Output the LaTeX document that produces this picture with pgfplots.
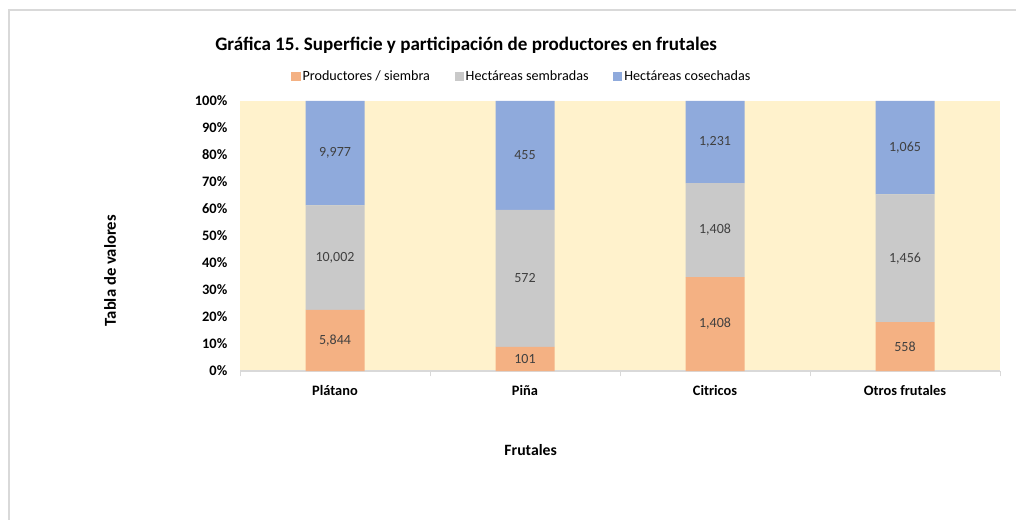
\documentclass[border=0pt]{standalone}
\usepackage{fontspec}
\setmainfont{Carlito}
\usepackage{pgfplots}
\usepackage{pgfplotstable}
\pgfplotsset{compat=1.18}
\definecolor{cOrange}{HTML}{F4B183}
\definecolor{cGray}{HTML}{C9C9C9}
\definecolor{cBlue}{HTML}{8FAADC}
\definecolor{bgY}{HTML}{FFF2CC}
\definecolor{axGray}{HTML}{D9D9D9}
\definecolor{lblGray}{HTML}{404040}
\pgfplotstableread{
x a b c
0 5844 10002 9977
1 101 572 455
2 1408 1408 1231
3 558 1456 1065
}\datatable
\frenchspacing
\begin{document}
\begin{tikzpicture}
\useasboundingbox (0pt,0pt) rectangle (762pt,-390pt);
\draw[axGray, line width=1pt] (6.75pt,-390pt) -- (6.75pt,-7.5pt) -- (762pt,-7.5pt);
\node[anchor=west, font=\bfseries\fontsize{14.3}{16}\selectfont, inner sep=0pt] at (161.25pt,-33.75pt) {Gráfica 15. Superficie y participación de productores en frutales};
\node[rotate=90, font=\bfseries\fontsize{12.5}{14}\selectfont, inner sep=0pt] at (82.5pt,-203pt) {Tabla de valores};
\node[font=\bfseries\fontsize{11.8}{14}\selectfont, inner sep=0pt] at (398pt,-337.5pt) {Frutales};
\begin{axis}[
  at={(180pt,-278.25pt)}, anchor=south west,
  width=570pt, height=202.5pt, scale only axis,
  xmin=-0.5, xmax=3.5, ymin=0, ymax=100,
  ybar stacked, bar width=44.25pt,
  axis background/.style={fill=bgY},
  axis x line*=bottom, axis y line*=left,
  x axis line style={draw=axGray, line width=0.8pt},
  y axis line style={draw=none},
  xtick={0,1,2,3},
  xticklabels={Plátano, Piña, Citricos, Otros frutales},
  xtick style={draw=none},
  ytick={0,10,...,100},
  ytick style={draw=none},
  yticklabel={\pgfmathprintnumber{\tick}\%},
  /pgf/number format/assume math mode=true,
  ticklabel style={font=\bfseries\fontsize{10.8}{12}\selectfont, text=black},
  yticklabel style={xshift=-6pt},
  xticklabel style={yshift=-7.5pt},
  extra x ticks={-0.5,0.5,1.5,2.5,3.5},
  extra x tick labels={},
  extra x tick style={xtick style={draw=axGray, line width=0.6pt}, tick align=outside, major tick length=4pt},
  legend columns=3,
  legend style={draw=none, fill=none, at={(0.371,1.089)}, anchor=center,
    font=\fontsize{10.6}{12}\selectfont, text=black,
    /tikz/every even column/.append style={column sep=17pt},
    inner sep=0pt, nodes={inner sep=1.5pt}},
  legend image code/.code={\fill[#1] (-3pt,-3.4pt) rectangle (3.8pt,3.4pt);},
  clip=false,
]
\addplot[fill=cOrange, draw=none] table[x=x, y expr={100*\thisrow{a}/(\thisrow{a}+\thisrow{b}+\thisrow{c})}] \datatable;
\addlegendentry{Productores / siembra}
\addplot[fill=cGray, draw=none] table[x=x, y expr={100*\thisrow{b}/(\thisrow{a}+\thisrow{b}+\thisrow{c})}] \datatable;
\addlegendentry{Hectáreas sembradas}
\addplot[fill=cBlue, draw=none] table[x=x, y expr={100*\thisrow{c}/(\thisrow{a}+\thisrow{b}+\thisrow{c})}] \datatable;
\addlegendentry{Hectáreas cosechadas}
\end{axis}
\begin{axis}[
  at={(180pt,-278.25pt)}, anchor=south west,
  width=570pt, height=202.5pt, scale only axis,
  xmin=-0.5, xmax=3.5, ymin=0, ymax=100,
  hide axis, clip=false,
  nodes near coords={\pgfmathprintnumber[assume math mode=true, 1000 sep={,}]{\pgfplotspointmeta}},
  every node near coord/.append style={anchor=center, font=\fontsize{10.5}{12}\selectfont, text=lblGray},
  point meta=explicit,
]
\addplot[only marks, mark=square*, mark size=0pt, mark options={draw=none, fill=none}] table[x=x, meta=a, y expr={50*\thisrow{a}/(\thisrow{a}+\thisrow{b}+\thisrow{c})}] \datatable;
\addplot[only marks, mark=square*, mark size=0pt, mark options={draw=none, fill=none}] table[x=x, meta=b, y expr={100*(\thisrow{a}+0.5*\thisrow{b})/(\thisrow{a}+\thisrow{b}+\thisrow{c})}] \datatable;
\addplot[only marks, mark=square*, mark size=0pt, mark options={draw=none, fill=none}] table[x=x, meta=c, y expr={100*(\thisrow{a}+\thisrow{b}+0.5*\thisrow{c})/(\thisrow{a}+\thisrow{b}+\thisrow{c})}] \datatable;
\end{axis}
\end{tikzpicture}
\end{document}
